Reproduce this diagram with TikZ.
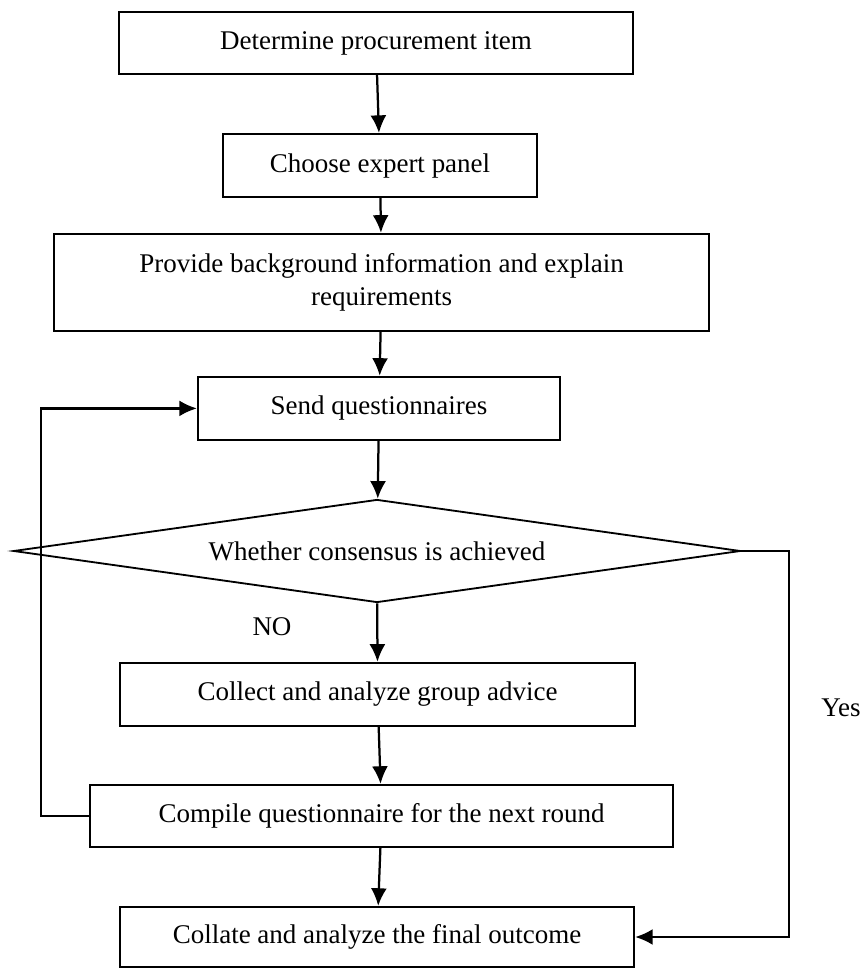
\documentclass[tikz,border=0pt]{standalone}
\usepackage{fontspec}
\setmainfont{Liberation Serif}
\usepackage{tikz}
\usetikzlibrary{calc}
\usetikzlibrary{arrows.meta}
\usetikzlibrary{shapes.geometric}
\tikzset{>={Latex[length=4.4mm, width=4mm]}}
\tikzstyle{stepbox} = [rectangle, draw = black, line width = 1.6pt, inner sep = 0, minimum height = 1.575cm, align = center]
\tikzstyle{flow} = [->, line width = 1.6pt]

\begin{document}
\begin{tikzpicture}[font = \fontsize{19.2}{23}\selectfont]
\useasboundingbox (0, 0) rectangle (21.6, -24.2);
\node [stepbox, minimum width = 12.85cm, minimum height = 1.55cm] (item) at (9.40, -1.075) {Determine procurement item};
\node [stepbox, minimum width = 7.85cm] (panel) at (9.50, -4.14) {Choose expert panel};
\node [stepbox, minimum width = 16.375cm, minimum height = 2.425cm] (background) at (9.54, -7.06) {Provide background information and explain\\requirements};
\node [stepbox, minimum width = 9.05cm] (send) at (9.475, -10.21) {Send questionnaires};
\node [diamond, draw = black, line width = 1.3pt, aspect = 7, inner sep = 0, minimum width = 18.175cm, minimum height = 2.575cm] (cons) at (9.425, -13.775) {Whether consensus is achieved};
\node [stepbox, minimum width = 12.875cm] (collect) at (9.44, -17.36) {Collect and analyze group advice};
\node [stepbox, minimum width = 14.575cm, minimum height = 1.55cm] (compile) at (9.54, -20.4) {Compile questionnaire for the next round};
\node [stepbox, minimum width = 12.85cm, minimum height = 1.5cm] (final) at (9.425, -23.425) {Collate and analyze the final outcome};
\coordinate (back) at (1.025, -20.4);
\coordinate (yes) at (19.725, -13.775);
\draw [flow] (item) to (panel);
\draw [flow] (panel) to (background);
\draw [flow] (background) to (send);
\draw [flow] (send) to (cons);
\draw [flow] (cons) to (collect);
\draw [flow] (collect) to (compile);
\draw [flow] (compile) to (final);
\draw [flow] (compile.west) -- (back) |- (send.west);
\draw [flow] (cons.east) -- (yes) |- (final.east);
\node [draw = none, inner sep = 0] (no) at (6.8, -15.675) {NO};
\node [draw = none, inner sep = 0] (yeslabel) at (21.025, -17.7) {Yes};
\end{tikzpicture}
\end{document}
